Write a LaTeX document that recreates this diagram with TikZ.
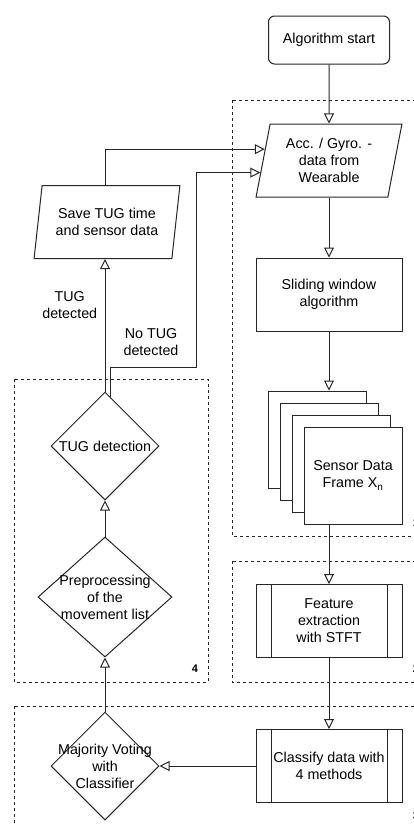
\documentclass[tikz,border=0pt]{standalone}
\usepackage{fontspec}
\setmainfont{Liberation Sans}
\usetikzlibrary{shapes.geometric, arrows.meta}

\tikzset{
  flow/.style={draw=black!85, line width=1pt, -{Triangle[open, length=10pt, width=10pt]}},
  block/.style={draw=black!85, line width=1pt, fill=white, align=center,
    minimum width=146pt, minimum height=73pt, inner sep=0pt},
  io/.style={block, trapezium, trapezium left angle=77, trapezium right angle=103,
    trapezium stretches=true},
  decide/.style={draw=black!85, line width=1pt, fill=white, diamond, inner sep=0pt},
  frame/.style={draw=black!85, line width=1pt, fill=white, align=center,
    minimum width=98pt, minimum height=97pt},
  process/.style={block, path picture={
    \draw[black!85, line width=1pt]
      ([xshift=15pt]path picture bounding box.north west) -- ([xshift=15pt]path picture bounding box.south west)
      ([xshift=-15pt]path picture bounding box.north east) -- ([xshift=-15pt]path picture bounding box.south east);}},
  group/.style={draw=black!85, line width=0.8pt, dashed},
  groupnum/.style={font=\fontsize{11}{13}\selectfont\bfseries},
}

\begin{document}
\begin{tikzpicture}[x=1pt, y=-1pt, font=\fontsize{14.3}{17}\selectfont]
    \useasboundingbox (0,0) rectangle (414,825);

    % dashed groups
    \draw [group] (232,100) rectangle (428,536);
    \draw [group] (232,561) rectangle (428,682);
    \draw [group] (14,379) rectangle (208,682);
    \draw [group] (14,706) rectangle (428,840);
    \node [groupnum] (g4) at (195,669) {4};
    \node [groupnum] (g1) at (416,523) {1};
    \node [groupnum] (g2) at (416,669) {2};
    \node [groupnum] (g3) at (416,816) {3};

    % right column
    \node [draw=black!85, line width=1pt, rounded corners=6pt, minimum width=121pt, minimum height=48pt] (start) at (329,40) {Algorithm start};
    \node [io] (acc) at (329,160.5) {Acc. / Gyro. -\\data from\\Wearable};
    \node [block] (slide) at (329,294.5) {Sliding window\\algorithm};
    \foreach \i in {0,1,2}
        \node [frame] (fr\i) at ({317+12*\i},{439.5+12*\i}) {};
    \node [frame] (fr3) at (353,475.5) {Sensor Data\\Frame X\textsubscript{n}};
    \node [process] (feat) at (329,621) {Feature\\extraction\\with STFT};
    \node [process] (cls) at (329,766) {Classify data with\\4 methods};

    % left column
    \node [decide, minimum width=108pt, minimum height=108pt,
        label={[align=center]center:Majority Voting\\with\\Classifier}] (vote) at (105,766) {};
    \node [decide, minimum width=134pt, minimum height=120pt,
        label={[align=center]center:Preprocessing\\of the\\movement list}] (prep) at (105,597) {};
    \node [decide, minimum width=108pt, minimum height=108pt,
        label={center:TUG detection}] (tug) at (105,446) {};
    \node [io] (save) at (107,222) {Save TUG time\\and sensor data};

    \draw [flow] (start) -- (acc);
    \draw [flow] (acc) -- (slide);
    \draw [flow] (slide.south) -- (fr0.north -| slide.south);
    \draw [flow] (fr3.south -| feat.north) -- (feat.north);
    \draw [flow] (feat) -- (cls);
    \draw [flow] (cls) -- (vote);
    \draw [flow] (vote) -- (prep);
    \draw [flow] (prep) -- (tug);
    \draw [flow] (tug.north) -- (tug.north |- save.south)
        node [pos=0.65, left, align=center, xshift=-4pt] {TUG\\detected};
    \draw [flow] (tug.north |- save.north) |- (acc.170);
    \coordinate (bend) at (196,367);
    \draw [flow] (tug.83) |- (bend) |- (acc.190);
    \node [align=center] (notug) at (151,342) {No TUG\\detected};
\end{tikzpicture}
\end{document}
